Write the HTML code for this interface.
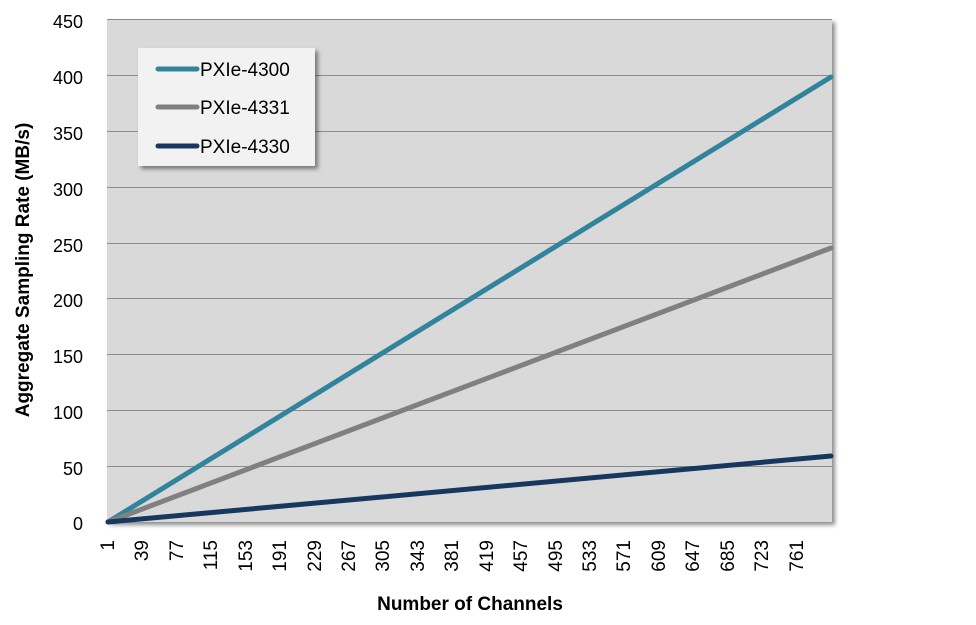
<!DOCTYPE html>
<html><head><style>
body{margin:0;background:#fff;}
svg text{font-family:"Liberation Sans",sans-serif;fill:#000;}
</style></head><body>
<svg width="976" height="620" xmlns="http://www.w3.org/2000/svg">
<defs><filter id="sh" x="-5%" y="-5%" width="115%" height="115%"><feDropShadow dx="3" dy="3" stdDeviation="2" flood-color="#000" flood-opacity="0.45"/></filter></defs>
<rect x="107" y="19" width="725" height="503" fill="#d9d9d9" filter="url(#sh)"/>
<g stroke="#8c8c8c" stroke-width="1">
<line x1="107" y1="19.5" x2="832" y2="19.5"/>
<line x1="107" y1="75.5" x2="832" y2="75.5"/>
<line x1="107" y1="131.5" x2="832" y2="131.5"/>
<line x1="107" y1="187.5" x2="832" y2="187.5"/>
<line x1="107" y1="243.5" x2="832" y2="243.5"/>
<line x1="107" y1="298.5" x2="832" y2="298.5"/>
<line x1="107" y1="354.5" x2="832" y2="354.5"/>
<line x1="107" y1="410.5" x2="832" y2="410.5"/>
<line x1="107" y1="466.5" x2="832" y2="466.5"/>
</g>
<g font-size="18" text-anchor="end">
<text x="83" y="28">450</text><text x="83" y="84">400</text><text x="83" y="140">350</text>
<text x="83" y="196">300</text><text x="83" y="252">250</text><text x="83" y="307">200</text>
<text x="83" y="363">150</text><text x="83" y="419">100</text><text x="83" y="475">50</text>
<text x="83" y="530">0</text>
</g>
<g stroke-linecap="round" stroke-width="5" fill="none">
<line x1="108" y1="522" x2="831" y2="77" stroke="#31849b"/>
<line x1="108" y1="522" x2="831" y2="248" stroke="#808080"/>
<line x1="108" y1="522" x2="831" y2="456" stroke="#17375e"/>
</g>
<text x="470" y="610" font-size="19" font-weight="bold" text-anchor="middle">Number of Channels</text>
<text transform="translate(29,270) rotate(-90)" font-size="19" font-weight="bold" text-anchor="middle">Aggregate Sampling Rate (MB/s)</text>
<rect x="138" y="48" width="177" height="118" fill="#f2f2f2" filter="url(#sh)"/>
<g stroke-linecap="round" stroke-width="5">
<line x1="158" y1="69" x2="197" y2="69" stroke="#31849b"/>
<line x1="158" y1="107" x2="197" y2="107" stroke="#808080"/>
<line x1="158" y1="146" x2="197" y2="146" stroke="#17375e"/>
</g>
<g font-size="19">
<text x="200" y="76">PXIe-4300</text>
<text x="200" y="114">PXIe-4331</text>
<text x="200" y="153">PXIe-4330</text>
</g>
<g font-size="19" text-anchor="end">
<text transform="translate(114,540) rotate(-90)">1</text>
<text transform="translate(148,540) rotate(-90)">39</text>
<text transform="translate(183,540) rotate(-90)">77</text>
<text transform="translate(217,540) rotate(-90)">115</text>
<text transform="translate(252,540) rotate(-90)">153</text>
<text transform="translate(286,540) rotate(-90)">191</text>
<text transform="translate(321,540) rotate(-90)">229</text>
<text transform="translate(355,540) rotate(-90)">267</text>
<text transform="translate(389,540) rotate(-90)">305</text>
<text transform="translate(424,540) rotate(-90)">343</text>
<text transform="translate(458,540) rotate(-90)">381</text>
<text transform="translate(493,540) rotate(-90)">419</text>
<text transform="translate(527,540) rotate(-90)">457</text>
<text transform="translate(562,540) rotate(-90)">495</text>
<text transform="translate(596,540) rotate(-90)">533</text>
<text transform="translate(630,540) rotate(-90)">571</text>
<text transform="translate(665,540) rotate(-90)">609</text>
<text transform="translate(699,540) rotate(-90)">647</text>
<text transform="translate(734,540) rotate(-90)">685</text>
<text transform="translate(768,540) rotate(-90)">723</text>
<text transform="translate(803,540) rotate(-90)">761</text>
</g>
</svg>
</body></html>
